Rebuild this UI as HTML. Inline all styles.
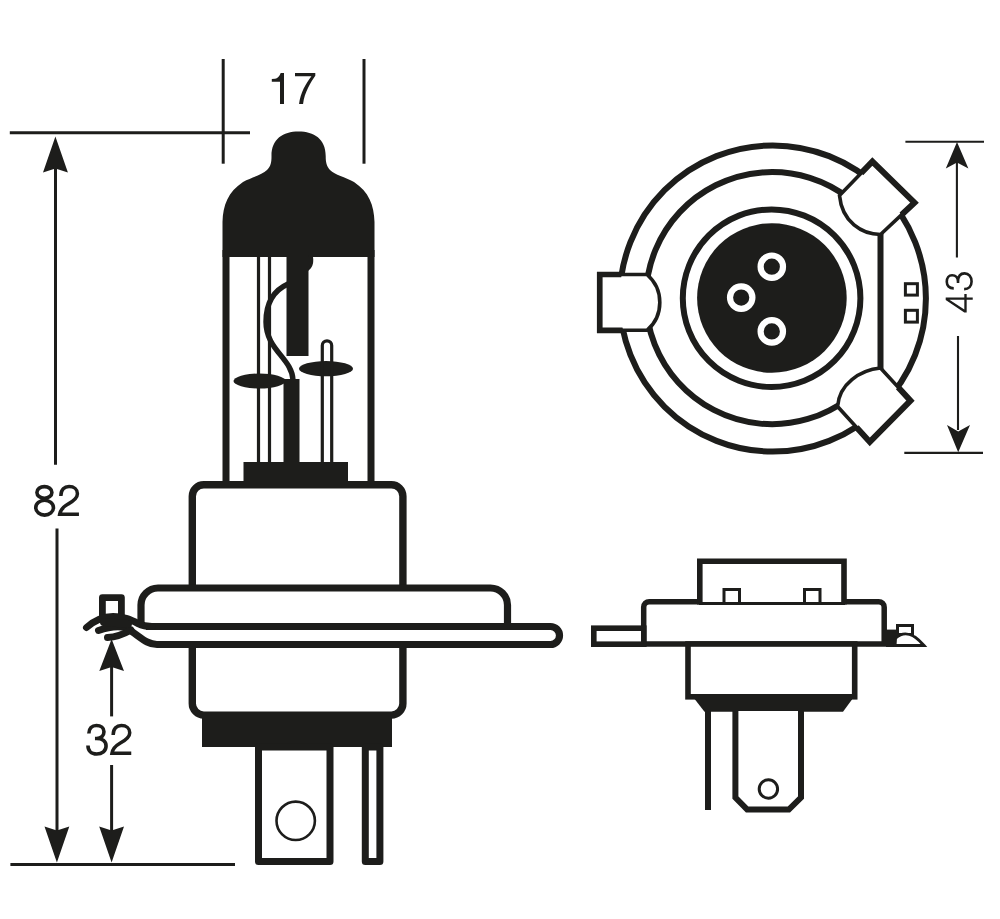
<!DOCTYPE html>
<html><head><meta charset="utf-8">
<style>
html,body{margin:0;padding:0;background:#fff;}
body{width:1000px;height:919px;overflow:hidden;}
svg{display:block;}
text{font-family:"Liberation Sans",sans-serif;fill:#1d1d1b;}
</style></head><body>
<svg width="1000" height="919" viewBox="0 0 1000 919">
<rect width="1000" height="919" fill="#fff"/>
<g fill="none" stroke="#1d1d1b" stroke-linecap="butt" stroke-linejoin="miter">

<!-- ===== dimension lines (left view) ===== -->
<g stroke-width="3">
<line x1="9.8" y1="132.8" x2="250" y2="132.8"/>
<line x1="223.2" y1="59" x2="223.2" y2="163.7"/>
<line x1="364" y1="59" x2="364" y2="163.7"/>
<line x1="10.4" y1="864.4" x2="235" y2="864.4"/>
<line x1="55.5" y1="160" x2="55.5" y2="464.8"/>
<line x1="57" y1="528.5" x2="57" y2="840"/>
<line x1="111.6" y1="660" x2="111.6" y2="716.4"/>
<line x1="111.6" y1="765" x2="111.6" y2="840"/>
</g>
<g fill="#1d1d1b" stroke="none">
<path d="M55.4 136.4 L67.9 172.6 L55.4 168.6 L43 172.6 Z"/>
<path d="M56.9 862.6 L69.3 826.4 L56.9 830.4 L44.5 826.4 Z"/>
<path d="M111.6 639 L124 671 L111.6 667 L99.3 671 Z"/>
<path d="M111.6 862.6 L124 826.4 L111.6 830.4 L99.2 826.4 Z"/>
</g>

<!-- ===== bulb glass ===== -->
<g id="bulb">
<!-- walls -->
<rect x="222.500" y="250" width="7" height="236" fill="#1d1d1b" stroke="none"/>
<rect x="367.500" y="250" width="7" height="236" fill="#1d1d1b" stroke="none"/>
<!-- cap -->
<path fill="#1d1d1b" stroke="none" d="M222.500 257 L222.500 222 C223 205 228 192 243 182 C252 177 262 175 267 170 C271 166 271.5 162 271.5 156 C271.5 139 283 131.6 298.5 131.6 C314 131.6 325.7 139 325.7 156 C325.7 162 326.5 166 330 170 C335 175 345 177 354 182 C369 192 374 205 374.500 222 L374.500 257 Z"/>
<!-- thin verticals -->
<line x1="258.500" y1="257" x2="258.500" y2="462" stroke-width="3.200"/>
<line x1="269.500" y1="257" x2="269.500" y2="462" stroke-width="3.200"/>
<!-- shield bar -->
<rect x="286.500" y="255" width="22" height="101" fill="#1d1d1b" stroke="none"/>
<path d="M308 257 L313 257 C314 264 312 268 308 271 Z" fill="#1d1d1b" stroke="none"/>
<!-- S wire -->
<path d="M288 284 C270 292 266 308 266 322 C266 350 292 358 293 380" stroke-width="5.400"/>
<!-- lower bar -->
<rect x="283.500" y="379" width="16" height="84" fill="#1d1d1b" stroke="none"/>
<!-- ellipses -->
<ellipse cx="259.500" cy="381" rx="26" ry="7.500" fill="#1d1d1b" stroke="none"/>
<ellipse cx="326" cy="368.700" rx="27" ry="7.600" fill="#1d1d1b" stroke="none"/>
<!-- hairpin -->
<path d="M322.300 462 L322.300 345.500 A4.700 4.700 0 0 1 331.700 345.500 L331.700 462" stroke-width="3.200"/>
<!-- base block -->
<rect x="243.500" y="462" width="104.500" height="24" fill="#1d1d1b" stroke="none"/>
</g>

<!-- ===== body ===== -->
<rect x="192.3" y="484.8" width="210.6" height="230.3" rx="11.5" ry="11.5" stroke-width="7.4" fill="#fff"/>
<rect x="202" y="714" width="190" height="33" fill="#1d1d1b" stroke="none"/>
<!-- flange -->
<path d="M141 627 L141 605 A17 17 0 0 1 158 588 L490.500 588 A17 17 0 0 1 507.500 605 L507.500 627" stroke-width="7.2" fill="#fff"/>
<!-- plate -->
<path d="M146 626.500 L550.500 626.500 A9 9 0 0 1 550.500 644.500 L157 644.500 C146 644.500 140 636 124 626.500" stroke-width="7.2" fill="#fff"/>
<!-- clip on left -->
<rect x="102.4" y="597.6" width="19" height="22" stroke-width="6.8" stroke-linejoin="round" fill="#fff"/>
<g stroke-linecap="round" stroke-width="7">
<path d="M86.500 627.500 C95 620 104 616.500 113 616.500 C124 616.500 131 620 138 623.500 C143 626 146 626.500 152 626.500"/>
<path d="M98.500 630.500 C108 627 118 626 126 627.500"/>
<path d="M107.500 637.500 C117 637 124 634 131 630"/>
<path d="M104 622 L128 624" stroke-width="8"/>
</g>

<!-- pins -->
<rect x="258.500" y="747" width="71.500" height="114.500" stroke-width="7" stroke-linejoin="round" fill="#fff"/>
<circle cx="295.700" cy="820.800" r="19.200" stroke-width="2.600"/>
<rect x="365.300" y="747" width="14.600" height="114.500" stroke-width="7" stroke-linejoin="round" fill="#fff"/>

<!-- ===== top view ===== -->
<g id="topview">
<clipPath id="outside"><path clip-rule="evenodd" d="M0 0 H1000 V919 H0 Z M772.800 145.400 A153.100 153.100 0 1 0 772.900 145.400 Z"/></clipPath>
<circle cx="772.800" cy="298.500" r="153.100" stroke-width="6"/>
<!-- second ring as arc (52deg up-right, through left, to 53deg down-right) -->
<path d="M849.600 198.700 A126.100 126.100 0 1 0 847.900 398.800" stroke-width="6"/>
<line x1="880.500" y1="232" x2="880.500" y2="370" stroke-width="6"/>
<circle cx="771.600" cy="298.200" r="88.800" stroke-width="6"/>
<circle cx="771.900" cy="298" r="74.800" fill="#1d1d1b" stroke="none"/>
<g fill="#1d1d1b" stroke="#fff" stroke-width="6.2">
<circle cx="771.8" cy="266.7" r="11.2"/>
<circle cx="741.2" cy="297.6" r="11.2"/>
<circle cx="771.8" cy="331.4" r="11.2"/>
</g>
<!-- left tab -->
<path id="tabL" d="M647 274.500 L599.750 274.500 L599.750 330.300 L647 330.300 A36.8 36.8 0 0 0 647 274.500 Z" stroke-width="3.6" fill="#fff"/>
<path d="M647 274.500 L599.750 274.500 L599.750 330.300 L647 330.300" stroke-width="5.700" clip-path="url(#outside)"/>
<!-- upper right tab -->
<path d="M839.500 195.500 L872.400 161.500 L914.500 202.600 L880.500 234.500 C862 234.500 842 222 839.500 195.500 Z" stroke-width="3.6" fill="#fff"/>
<path d="M839.500 195.500 L872.400 161.500 L914.500 202.600 L880.500 234.500" stroke-width="6" clip-path="url(#outside)"/>
<!-- lower right tab -->
<path d="M880.500 368 L910.500 400.600 L869.800 441.900 L837.600 406.500 C839 384 860 370 880.500 368 Z" stroke-width="3.6" fill="#fff"/>
<path d="M880.500 368 L910.500 400.600 L869.800 441.900 L837.600 406.500" stroke-width="6" clip-path="url(#outside)"/>
<!-- small squares -->
<rect x="905.400" y="283.700" width="12" height="11.400" stroke-width="3"/>
<rect x="905.400" y="310.300" width="12" height="11.800" stroke-width="3"/>
</g>
<!-- 43 dimension -->
<g stroke-width="2.1">
<line x1="905.4" y1="141.7" x2="984" y2="141.7"/>
<line x1="904.3" y1="452.9" x2="983" y2="452.9"/>
<line x1="956.9" y1="160" x2="956.9" y2="257.5"/>
<line x1="958" y1="336" x2="958" y2="430"/>
</g>
<g fill="#1d1d1b" stroke="none">
<path d="M957 142 L968.4 168.6 L957 162.6 L945.8 168.6 Z"/>
<path d="M958.2 452.3 L970 425.1 L958.2 431.4 L947 425.1 Z"/>
</g>

<!-- ===== side view ===== -->
<g id="sideview">
<!-- flange body (white fill, thin top line under box) -->
<path d="M643.7 644 L643.7 607.2 A5.5 5.5 0 0 1 649.2 601.7 L878.7 601.7 A5.5 5.5 0 0 1 884.2 607.2 L884.2 644 Z" stroke="none" fill="#fff"/>
<line x1="699" y1="603.5" x2="845" y2="603.5" stroke-width="3"/>
<path d="M699.8 601.7 L649.2 601.7 A5.5 5.5 0 0 0 643.7 607.2 L643.7 644 L884.2 644 L884.2 607.2 A5.5 5.5 0 0 0 878.7 601.7 L844 601.7" stroke-width="5.5"/>
<!-- top box -->
<path d="M699.8 604.4 L699.8 561.2 L844 561.2 L844 604.4" stroke-width="5.6"/>
<rect x="724" y="589.5" width="15.5" height="14" stroke-width="3"/>
<rect x="804.5" y="589.5" width="15.500" height="14" stroke-width="3"/>
<rect x="593.8" y="628.2" width="50" height="16" stroke-width="5.600" fill="#fff"/>
<rect x="688" y="644" width="166.7" height="52.8" stroke-width="5.600" fill="#fff"/>
<path d="M691 694 L852 694 L852 699.5 L843 711.8 L704.5 711.8 L695 699.5 Z" fill="#1d1d1b" stroke="none"/>
<rect x="705" y="711" width="6" height="99" fill="#1d1d1b" stroke="none"/>
<path d="M735.4 711 L735.4 797.6 L747.2 809.6 L788.8 809.6 L801 797.6 L801 711" stroke-width="6" fill="#fff"/>
<circle cx="768.4" cy="789" r="9.2" stroke-width="3"/>
<!-- right clip -->
<rect x="886" y="629.600" width="10" height="17.400" fill="#1d1d1b" stroke="none"/>
<rect x="897.500" y="625.500" width="15" height="9" stroke-width="3" fill="#fff"/>
<path d="M895 645.500 L924 645.500 C914 634 905 630 895.500 638 Z" stroke-width="3" fill="#fff"/>
</g>
</g>

<!-- digits (hand-drawn, Helvetica-like) -->
<defs>
<path id="d1" d="M0 5.950 L3.300 5.800 C5.500 5.300 7.800 3.200 8.900 0 L12.200 0 L12.200 31 L8.200 31 L8.200 8.900 L0 8.900 Z" fill="#1d1d1b"/>
<path id="d7" d="M0 0 L20.300 0 L20.300 2.800 C16 9 9.500 19 8.050 31 L4.060 31 C5.300 20 11 10 16.450 3.200 L0 3.200 Z" fill="#1d1d1b"/>
<g id="d8" fill="none" stroke="#1d1d1b" stroke-width="3.600">
<ellipse cx="10.45" cy="7.6" rx="7.5" ry="5.8"/>
<ellipse cx="10.640" cy="22.900" rx="8.840" ry="7.400"/>
</g>
<path id="d2" d="M2.800 11.200 C2.800 4.500 6.500 1.800 11 1.800 C16 1.800 19.400 4.800 19.400 9 C19.400 13.500 15.500 16.300 10 19.300 C5 22.200 2.200 25.500 1.600 29.500 L20.900 29.500" fill="none" stroke="#1d1d1b" stroke-width="3.500" stroke-linejoin="miter" stroke-miterlimit="3"/>
<path id="d3" d="M2.800 9.800 C2.800 4.500 6 1.800 10.300 1.800 C14.800 1.800 17.900 4.200 17.900 7.900 C17.900 12 15 14.700 10.500 14.700 L8.900 14.700 M10.500 14.700 C16.500 14.700 20 17.500 20 22.200 C20 27 16 30.250 10.600 30.250 C5.200 30.250 1.900 27 1.900 21.700" fill="none" stroke="#1d1d1b" stroke-width="3.600"/>
<path id="d4" fill-rule="evenodd" d="M13.800 0 L17.500 0 L17.500 21.100 L21.100 21.100 L21.100 24.300 L17.500 24.300 L17.500 31 L14.200 31 L14.200 24.300 L0 24.300 L0 21.100 Z M14.200 5.230 L14.200 21.100 L3.820 21.100 Z" fill="#1d1d1b"/>
<path id="d3r" d="M2.800 9.800 C2.800 4.500 6 1.800 10.300 1.800 C14.800 1.800 17.900 4.200 17.900 7.900 C17.900 12 15 14.700 10.500 14.700 L8.900 14.700 M10.500 14.700 C16.500 14.700 20 17.500 20 22.200 C20 27 16 30.250 10.600 30.250 C5.200 30.250 1.900 27 1.900 21.700" fill="none" stroke="#1d1d1b" stroke-width="3"/>
<path id="d4r" fill-rule="evenodd" d="M14.1 0 L17.2 0 L17.2 21.35 L21.1 21.35 L21.1 24.05 L17.2 24.05 L17.2 31 L14.5 31 L14.5 24.05 L0 24.05 L0 21.35 Z M14.5 4.29 L14.5 21.35 L3.24 21.35 Z" fill="#1d1d1b"/>
</defs>
<use href="#d1" transform="translate(271.800 72.950)"/>
<use href="#d7" transform="translate(295 72.950)"/>
<use href="#d8" transform="translate(33.960 484.800)"/>
<use href="#d2" transform="translate(58.040 484.800)"/>
<use href="#d3" transform="translate(86.060 723.750)"/>
<use href="#d2" transform="translate(110.350 723.750)"/>
<use href="#d4r" transform="translate(945.700 312.400) rotate(-90) scale(0.872)"/>
<use href="#d3r" transform="translate(945.200 290.800) rotate(-90) scale(0.872)"/>
</svg>
</body></html>
